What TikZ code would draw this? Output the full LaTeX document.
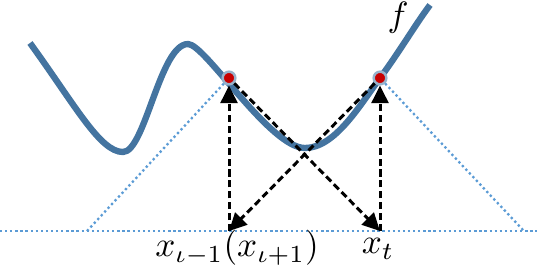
\documentclass[tikz,border=0pt]{standalone}
\usetikzlibrary{arrows.meta}
\definecolor{curveblue}{RGB}{68,116,160}
\definecolor{dotblue}{RGB}{91,155,213}
\definecolor{ptred}{RGB}{200,0,0}
\begin{document}
\begin{tikzpicture}[x=0.01cm,y=-0.01cm,
  dotline/.style={dotblue,line width=0.65pt,dash pattern=on 0.65pt off 0.8pt},
  arr/.style={line width=0.85pt,dash pattern=on 2pt off 1.1pt,-{Triangle[length=5pt,width=4.8pt]}},
  pt/.style={circle,fill=ptred,draw=curveblue!55,line width=0.7pt,inner sep=0pt,minimum size=3.6pt}]
\useasboundingbox (0,0) rectangle (537,269);
\coordinate (bl) at (0,231); \coordinate (br) at (537,231);
\coordinate (tl) at (87,231); \coordinate (tr) at (524,231);
\coordinate (a) at (229,231); \coordinate (b) at (380,231);
\draw[curveblue,line width=1.8pt] (30,43) .. controls (75,105) and (100,152) .. (123,152)
  .. controls (145,152) and (160,44) .. (188,44)
  .. controls (205,44) and (270,148) .. (305,148)
  .. controls (335,148) and (360,105) .. (380,78)
  .. controls (400,51) and (415,25) .. (430,5);
\node[pt] (p) at (229,78) {};
\node[pt] (q) at (380,78) {};
\draw[dotline] (bl)--(br);
\draw[dotline] (tl)--(p);
\draw[dotline] (q)--(tr);
\draw[arr] (a)--(p);
\draw[arr] (b)--(q);
\draw[arr] (p)--(b);
\draw[arr] (q)--(a);
\node (la) at (237,248) {$x_{\iota-1}(x_{\iota+1})$};
\node (lt) at (378,249) {$x_t$};
\node[inner sep=0pt] (lf) at (398,18) {$f$};
\end{tikzpicture}
\end{document}
